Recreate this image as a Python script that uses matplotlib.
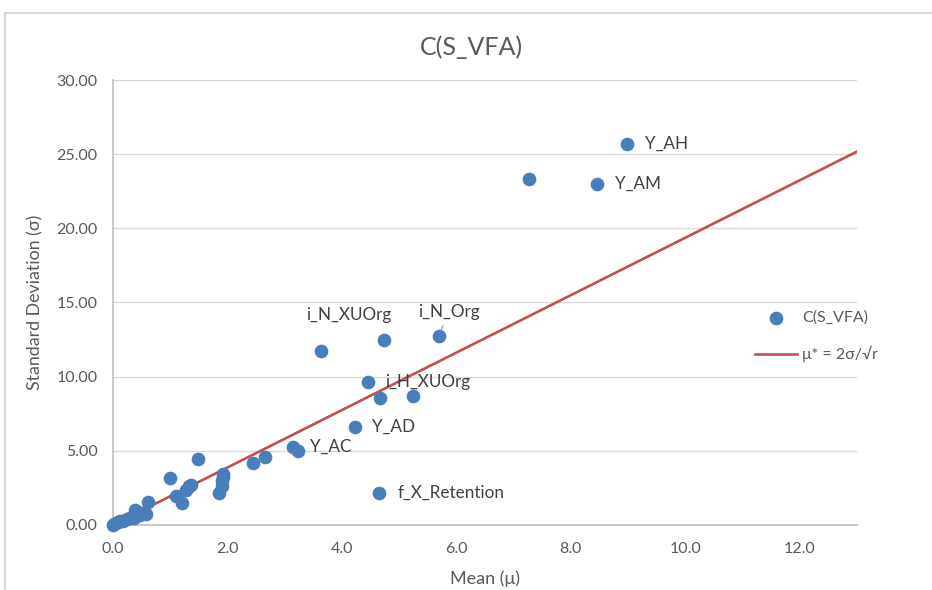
import numpy as np
import matplotlib
matplotlib.use("Agg")
from matplotlib import pyplot as plt
from matplotlib.patches import Rectangle

# mean (mu) and standard deviation (sigma) of elementary effects
mu = [0.00, 0.02, 0.05, 0.09, 0.13, 0.18, 0.24, 0.29, 0.33, 0.36, 0.38, 0.41,
      0.44, 0.47, 0.52, 0.57, 0.62, 1.00, 1.10, 1.21, 1.27, 1.32, 1.36, 1.48,
      1.86, 1.90, 1.91, 1.92, 1.92, 2.45, 2.66, 3.14, 3.24, 3.63, 4.23, 4.45,
      4.64, 4.67, 4.73, 5.25, 5.69, 7.27, 8.46, 8.99]
sigma = [0.02, 0.08, 0.12, 0.18, 0.25, 0.30, 0.40, 0.48, 0.55, 0.45, 0.98, 0.62,
         0.85, 0.70, 0.78, 0.74, 1.57, 3.15, 1.96, 1.46, 2.38, 2.60, 2.72, 4.44,
         2.14, 2.62, 2.98, 3.22, 3.45, 4.21, 4.57, 5.29, 5.00, 11.70, 6.60, 9.64,
         2.14, 8.56, 12.50, 8.67, 12.72, 23.30, 23.00, 25.70]
names = {31: "Y_AC", 33: "i_N_XUOrg", 34: "Y_AD", 35: "i_H_XUOrg",
         36: "f_X_Retention", 40: "i_N_Org", 42: "Y_AM", 43: "Y_AH"}

r = 15
line_x = np.array([0.0, 13.0])

# label offsets in pixels (layout only)
offsets = {31: (17, 0, "left"), 33: (28, 36, "center"), 34: (17, 0, "left"),
           35: (17, 0, "left"), 36: (19, 0, "left"), 40: (10, 24, "center"),
           42: (18, 0, "left"), 43: (18, 0, "left")}

plt.rcParams['font.family'] = ['Lato', 'DejaVu Sans']
fig = plt.figure(figsize=(9.32, 5.90), dpi=100)
ax = fig.add_axes([0.1212, 0.1102, 0.7983, 0.7542])

fig.patches.append(Rectangle((5 / 932, -0.1), 1.2, (590 - 13) / 590 + 0.1,
                             transform=fig.transFigure, fill=False,
                             edgecolor="#d9d9d9", lw=1.5))

ax.scatter(mu, sigma, s=78, color="#4a7ebb", zorder=3, clip_on=False, label="C(S_VFA)")
ax.plot(line_x, line_x * np.sqrt(r) / 2, color="#c0504d", lw=1.9, zorder=2,
        label="μ* = 2σ/√r")

for i, txt in names.items():
    dx, dy, ha = offsets[i]
    ap = None
    if txt == "i_N_Org":
        ap = dict(arrowstyle="-", color="#a6a6a6", lw=1, shrinkA=2, shrinkB=5)
    ax.annotate(txt, (mu[i], sigma[i]), xytext=(dx, dy), textcoords="offset pixels",
                ha=ha, va="center", fontsize=12.3, color="#404040", arrowprops=ap)

ax.set_xlim(0, 13)
ax.set_ylim(0, 30)
ax.set_xticks(np.arange(0, 13, 2.0))
ax.set_yticks(np.arange(0, 31, 5.0))
ax.set_xticklabels([f"{v:.1f}" for v in np.arange(0, 13, 2.0)])
ax.set_yticklabels([f"{v:.2f}" for v in np.arange(0, 31, 5.0)])
ax.tick_params(length=0, labelsize=11.5, colors="#595959")
ax.tick_params(axis="y", pad=11)
ax.tick_params(axis="x", pad=12)
ax.grid(axis="y", color="#d9d9d9", lw=1)
ax.set_axisbelow(True)
for s in ["top", "right"]:
    ax.spines[s].set_visible(False)
for s in ["left", "bottom"]:
    ax.spines[s].set_color("#bfbfbf")
    ax.spines[s].set_linewidth(1.2)

fig.text(471 / 932, 1 - 47 / 590, "C(S_VFA)", fontsize=18, color="#595959",
         ha="center", va="center")
ax.set_xlabel("Mean (μ)", fontsize=13, color="#595959", labelpad=11)
ax.set_ylabel("Standard Deviation (σ)", fontsize=12.8, color="#595959", labelpad=9)

leg = ax.legend(loc="center left", bbox_to_anchor=(0.863, 0.4236), frameon=False,
                fontsize=11.5, labelcolor="#595959", handlelength=2.63,
                labelspacing=1.3, handletextpad=0.31, borderpad=0, borderaxespad=0)

fig.savefig("out.png", dpi=100)
